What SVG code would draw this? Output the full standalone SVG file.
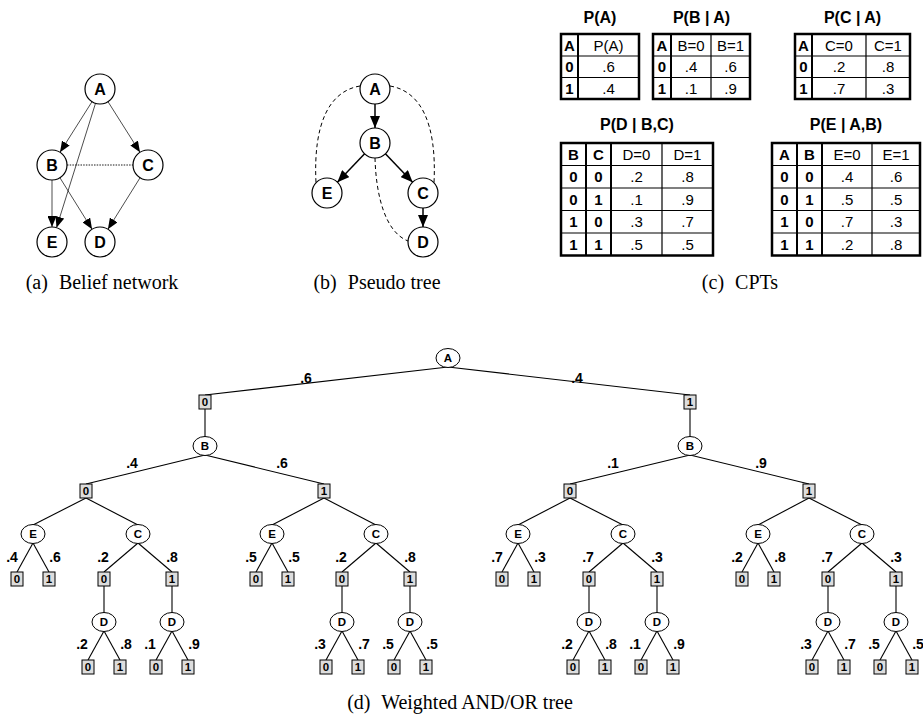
<svg xmlns="http://www.w3.org/2000/svg" width="923" height="721" viewBox="0 0 923 721">
<defs>
<marker id="arr" markerUnits="userSpaceOnUse" markerWidth="11" markerHeight="9" refX="11" refY="4.5" orient="auto"><path d="M0,0 L11,4.5 L0,9 z" fill="#000"/></marker>
<marker id="arr2" markerUnits="userSpaceOnUse" markerWidth="12" markerHeight="10" refX="12" refY="5" orient="auto"><path d="M0,0 L12,5 L0,10 z" fill="#000"/></marker>
</defs>
<style>
.n circle{fill:#fff;stroke:#000;stroke-width:1.2}
.n text{font-family:"Liberation Sans",Arial,sans-serif;font-weight:bold;font-size:16px;text-anchor:middle}
.e1{stroke:#000;stroke-width:0.7;fill:none}
.dot{stroke:#000;stroke-width:0.9;stroke-dasharray:1.5 1.2;fill:none}
.e2{stroke:#000;stroke-width:1.5;fill:none}
.dash{stroke:#000;stroke-width:1;stroke-dasharray:4 3;fill:none}
.cap{font-family:"Liberation Serif","Times New Roman",serif;font-size:20px;text-anchor:middle}
.tt{font-family:"Liberation Sans",Arial,sans-serif;font-weight:bold;font-size:16px;text-anchor:middle}
.tc{font-family:"Liberation Sans",Arial,sans-serif;font-size:15px;text-anchor:middle}
.tb{font-weight:bold}
.ob{fill:none;stroke:#000;stroke-width:2.5}
.tk{stroke:#000;stroke-width:2}
.tn{stroke:#000;stroke-width:1.2}
.or ellipse{fill:#fff;stroke:#000;stroke-width:1}
.or text,.and text{font-family:"Liberation Sans",Arial,sans-serif;font-weight:bold;font-size:11.5px;text-anchor:middle}
.and rect{fill:#ddd;stroke:#000;stroke-width:1}
.te path{stroke:#000;stroke-width:1.1;fill:none}
.w{font-family:"Liberation Sans",Arial,sans-serif;font-weight:bold;font-size:14px;text-anchor:middle}
</style>
<rect width="923" height="721" fill="#fff"/>

<!-- (a) Belief network -->
<g id="belief-network">
<g id="bn-edges">
<line class="e1" x1="92" y1="101.7" x2="60" y2="152.3" marker-end="url(#arr)"/>
<line class="e1" x1="108" y1="101.7" x2="140" y2="152.3" marker-end="url(#arr)"/>
<line class="e1" x1="95.5" y1="103.3" x2="56.5" y2="227.7" marker-end="url(#arr)"/>
<line class="e1" x1="52" y1="180" x2="52" y2="227" marker-end="url(#arr)"/>
<line class="e1" x1="59.9" y1="177.7" x2="92.1" y2="229.3" marker-end="url(#arr)"/>
<line class="e1" x1="140.1" y1="177.7" x2="107.9" y2="229.3" marker-end="url(#arr)"/>
<line class="dot" x1="67" y1="165" x2="133" y2="165"/>
</g>
<g id="bn-A" class="n"><circle cx="100" cy="89" r="15"/><text x="100" y="95">A</text></g>
<g id="bn-B" class="n"><circle cx="52" cy="165" r="15"/><text x="52" y="171">B</text></g>
<g id="bn-C" class="n"><circle cx="148" cy="165" r="15"/><text x="148" y="171">C</text></g>
<g id="bn-E" class="n"><circle cx="52" cy="242" r="15"/><text x="52" y="248">E</text></g>
<g id="bn-D" class="n"><circle cx="100" cy="242" r="15"/><text x="100" y="248">D</text></g>
<text class="cap" x="102" y="289">(a)<tspan dx="6"> Belief network</tspan></text>
</g>

<!-- (b) Pseudo tree -->
<g id="pseudo-tree">
<g id="pt-edges">
<line class="e2" x1="375" y1="104" x2="375" y2="128" marker-end="url(#arr2)"/>
<line class="e2" x1="364.6" y1="153.8" x2="337.4" y2="182.2" marker-end="url(#arr2)"/>
<line class="e2" x1="385.4" y1="153.8" x2="412.6" y2="182.2" marker-end="url(#arr2)"/>
<line class="e2" x1="423" y1="208" x2="423" y2="227" marker-end="url(#arr2)"/>
<path class="dash" d="M360,86 C330,91 313,122 316,183"/>
<path class="dash" d="M390,86 C420,91 437,122 434,183"/>
<path class="dash" d="M375,158 C376,195 385,232 408,241"/>
</g>
<g id="pt-A" class="n"><circle cx="375" cy="89" r="15"/><text x="375" y="95">A</text></g>
<g id="pt-B" class="n"><circle cx="375" cy="143" r="15"/><text x="375" y="149">B</text></g>
<g id="pt-E" class="n"><circle cx="327" cy="193" r="15"/><text x="327" y="199">E</text></g>
<g id="pt-C" class="n"><circle cx="423" cy="193" r="15"/><text x="423" y="199">C</text></g>
<g id="pt-D" class="n"><circle cx="423" cy="242" r="15"/><text x="423" y="248">D</text></g>
<text class="cap" x="377" y="289">(b)<tspan dx="6"> Pseudo tree</tspan></text>
</g>

<!-- (c) CPTs -->
<g id="cpts">
<g id="cpt-A">
<text class="tt" x="600" y="23">P(A)</text>
<line class="tn" x1="561" y1="56" x2="639" y2="56"/>
<line class="tn" x1="561" y1="77.5" x2="639" y2="77.5"/>
<line class="tk" x1="578" y1="34" x2="578" y2="99"/>
<rect class="ob" x="561" y="34" width="78" height="65"/>
<text class="tc tb" x="569.5" y="50.5">A</text><text class="tc" x="608.5" y="50.5">P(A)</text>
<text class="tc tb" x="569.5" y="72.3">0</text><text class="tc" x="608.5" y="72.3">.6</text>
<text class="tc tb" x="569.5" y="93.8">1</text><text class="tc" x="608.5" y="93.8">.4</text>
</g>
<g id="cpt-B">
<text class="tt" x="701.5" y="23">P(B | A)</text>
<line class="tn" x1="653" y1="56" x2="750" y2="56"/>
<line class="tn" x1="653" y1="77.5" x2="750" y2="77.5"/>
<line class="tk" x1="671" y1="34" x2="671" y2="99"/>
<line class="tn" x1="711" y1="34" x2="711" y2="99"/>
<rect class="ob" x="653" y="34" width="97" height="65"/>
<text class="tc tb" x="662" y="50.5">A</text><text class="tc" x="691" y="50.5">B=0</text><text class="tc" x="730.5" y="50.5">B=1</text>
<text class="tc tb" x="662" y="72.3">0</text><text class="tc" x="691" y="72.3">.4</text><text class="tc" x="730.5" y="72.3">.6</text>
<text class="tc tb" x="662" y="93.8">1</text><text class="tc" x="691" y="93.8">.1</text><text class="tc" x="730.5" y="93.8">.9</text>
</g>
<g id="cpt-C">
<text class="tt" x="852.5" y="23">P(C | A)</text>
<line class="tn" x1="795" y1="56" x2="910" y2="56"/>
<line class="tn" x1="795" y1="77.5" x2="910" y2="77.5"/>
<line class="tk" x1="812" y1="34" x2="812" y2="99"/>
<line class="tn" x1="866" y1="34" x2="866" y2="99"/>
<rect class="ob" x="795" y="34" width="115" height="65"/>
<text class="tc tb" x="803.5" y="50.5">A</text><text class="tc" x="839" y="50.5">C=0</text><text class="tc" x="888" y="50.5">C=1</text>
<text class="tc tb" x="803.5" y="72.3">0</text><text class="tc" x="839" y="72.3">.2</text><text class="tc" x="888" y="72.3">.8</text>
<text class="tc tb" x="803.5" y="93.8">1</text><text class="tc" x="839" y="93.8">.7</text><text class="tc" x="888" y="93.8">.3</text>
</g>
<g id="cpt-D">
<text class="tt" x="637" y="130">P(D | B,C)</text>
<line class="tn" x1="561" y1="165.5" x2="713" y2="165.5"/>
<line class="tn" x1="561" y1="188" x2="713" y2="188"/>
<line class="tn" x1="561" y1="210.5" x2="713" y2="210.5"/>
<line class="tn" x1="561" y1="233" x2="713" y2="233"/>
<line class="tk" x1="586" y1="143" x2="586" y2="255.5"/>
<line class="tk" x1="611" y1="143" x2="611" y2="255.5"/>
<line class="tn" x1="662" y1="143" x2="662" y2="255.5"/>
<rect class="ob" x="561" y="143" width="152" height="112.5"/>
<text class="tc tb" x="573.5" y="159.8">B</text><text class="tc tb" x="598.5" y="159.8">C</text><text class="tc" x="636.5" y="159.8">D=0</text><text class="tc" x="687.5" y="159.8">D=1</text>
<text class="tc tb" x="573.5" y="182.3">0</text><text class="tc tb" x="598.5" y="182.3">0</text><text class="tc" x="636.5" y="182.3">.2</text><text class="tc" x="687.5" y="182.3">.8</text>
<text class="tc tb" x="573.5" y="204.8">0</text><text class="tc tb" x="598.5" y="204.8">1</text><text class="tc" x="636.5" y="204.8">.1</text><text class="tc" x="687.5" y="204.8">.9</text>
<text class="tc tb" x="573.5" y="227.3">1</text><text class="tc tb" x="598.5" y="227.3">0</text><text class="tc" x="636.5" y="227.3">.3</text><text class="tc" x="687.5" y="227.3">.7</text>
<text class="tc tb" x="573.5" y="249.8">1</text><text class="tc tb" x="598.5" y="249.8">1</text><text class="tc" x="636.5" y="249.8">.5</text><text class="tc" x="687.5" y="249.8">.5</text>
</g>
<g id="cpt-E">
<text class="tt" x="846" y="130">P(E | A,B)</text>
<line class="tn" x1="772" y1="165.5" x2="920" y2="165.5"/>
<line class="tn" x1="772" y1="188" x2="920" y2="188"/>
<line class="tn" x1="772" y1="210.5" x2="920" y2="210.5"/>
<line class="tn" x1="772" y1="233" x2="920" y2="233"/>
<line class="tk" x1="797" y1="143" x2="797" y2="255.5"/>
<line class="tk" x1="822" y1="143" x2="822" y2="255.5"/>
<line class="tn" x1="872" y1="143" x2="872" y2="255.5"/>
<rect class="ob" x="772" y="143" width="148" height="112.5"/>
<text class="tc tb" x="784.5" y="159.8">A</text><text class="tc tb" x="809.5" y="159.8">B</text><text class="tc" x="847" y="159.8">E=0</text><text class="tc" x="896" y="159.8">E=1</text>
<text class="tc tb" x="784.5" y="182.3">0</text><text class="tc tb" x="809.5" y="182.3">0</text><text class="tc" x="847" y="182.3">.4</text><text class="tc" x="896" y="182.3">.6</text>
<text class="tc tb" x="784.5" y="204.8">0</text><text class="tc tb" x="809.5" y="204.8">1</text><text class="tc" x="847" y="204.8">.5</text><text class="tc" x="896" y="204.8">.5</text>
<text class="tc tb" x="784.5" y="227.3">1</text><text class="tc tb" x="809.5" y="227.3">0</text><text class="tc" x="847" y="227.3">.7</text><text class="tc" x="896" y="227.3">.3</text>
<text class="tc tb" x="784.5" y="249.8">1</text><text class="tc tb" x="809.5" y="249.8">1</text><text class="tc" x="847" y="249.8">.2</text><text class="tc" x="896" y="249.8">.8</text>
</g>
<text class="cap" x="740" y="289">(c)<tspan dx="6"> CPTs</tspan></text>
</g>

<!-- (d) Weighted AND/OR tree -->
<g id="andor-tree">
<g id="tree-edges" class="te">
<path d="M448,367 L205,395"/><path d="M448,367 L690,395"/>
<path d="M205,409 L205,437"/><path d="M690,409 L690,437"/>
<path d="M205,455 L86,484"/><path d="M205,455 L324,484"/>
<path d="M690,455 L570,484"/><path d="M690,455 L809,484"/>
<path d="M86,498 L33,525"/><path d="M86,498 L138,525"/>
<path d="M324,498 L272,525"/><path d="M324,498 L376,525"/>
<path d="M570,498 L518,525"/><path d="M570,498 L623,525"/>
<path d="M809,498 L758,525"/><path d="M809,498 L862,525"/>
<path d="M33,543 L17,572"/><path d="M33,543 L49,572"/>
<path d="M272,543 L256,572"/><path d="M272,543 L288,572"/>
<path d="M518,543 L502,572"/><path d="M518,543 L534,572"/>
<path d="M758,543 L742,572"/><path d="M758,543 L774,572"/>
<path d="M138,543 L104,572"/><path d="M138,543 L172,572"/>
<path d="M376,543 L342,572"/><path d="M376,543 L410,572"/>
<path d="M623,543 L589,572"/><path d="M623,543 L657,572"/>
<path d="M862,543 L828,572"/><path d="M862,543 L896,572"/>
<path d="M104,586 L104,613"/><path d="M172,586 L172,613"/>
<path d="M342,586 L342,613"/><path d="M410,586 L410,613"/>
<path d="M589,586 L589,613"/><path d="M657,586 L657,613"/>
<path d="M828,586 L828,613"/><path d="M896,586 L896,613"/>
<path d="M104,631 L88,660"/><path d="M104,631 L120,660"/>
<path d="M172,631 L156,660"/><path d="M172,631 L188,660"/>
<path d="M342,631 L326,660"/><path d="M342,631 L358,660"/>
<path d="M410,631 L394,660"/><path d="M410,631 L426,660"/>
<path d="M589,631 L573,660"/><path d="M589,631 L605,660"/>
<path d="M657,631 L641,660"/><path d="M657,631 L673,660"/>
<path d="M828,631 L812,660"/><path d="M828,631 L844,660"/>
<path d="M896,631 L880,660"/><path d="M896,631 L912,660"/>
</g>
<g id="tree-weights" class="w">
<text x="306" y="383">.6</text><text x="577" y="383">.4</text>
<text x="132" y="468">.4</text><text x="282" y="468">.6</text><text x="613" y="468">.1</text><text x="761" y="468">.9</text>
<text x="12" y="562">.4</text><text x="55" y="562">.6</text>
<text x="103" y="562">.2</text><text x="172" y="562">.8</text>
<text x="251" y="562">.5</text><text x="294" y="562">.5</text>
<text x="341" y="562">.2</text><text x="410" y="562">.8</text>
<text x="497" y="562">.7</text><text x="540" y="562">.3</text>
<text x="588" y="562">.7</text><text x="657" y="562">.3</text>
<text x="737" y="562">.2</text><text x="780" y="562">.8</text>
<text x="827" y="562">.7</text><text x="896" y="562">.3</text>
<text x="82" y="649">.2</text><text x="126" y="649">.8</text>
<text x="150" y="649">.1</text><text x="194" y="649">.9</text>
<text x="320" y="649">.3</text><text x="364" y="649">.7</text>
<text x="388" y="649">.5</text><text x="432" y="649">.5</text>
<text x="567" y="649">.2</text><text x="611" y="649">.8</text>
<text x="635" y="649">.1</text><text x="679" y="649">.9</text>
<text x="806" y="649">.3</text><text x="850" y="649">.7</text>
<text x="874" y="649">.5</text><text x="918" y="649">.5</text>
</g>
<!-- OR nodes -->
<g id="or-A" class="or"><ellipse cx="448" cy="358" rx="12" ry="9.5"/><text x="448" y="362.2">A</text></g>
<g id="or-B-a0" class="or"><ellipse cx="205" cy="446" rx="12" ry="9.5"/><text x="205" y="450.2">B</text></g>
<g id="or-B-a1" class="or"><ellipse cx="690" cy="446" rx="12" ry="9.5"/><text x="690" y="450.2">B</text></g>
<g id="or-E-00" class="or"><ellipse cx="33" cy="534" rx="12" ry="9.5"/><text x="33" y="538.2">E</text></g>
<g id="or-C-00" class="or"><ellipse cx="138" cy="534" rx="12" ry="9.5"/><text x="138" y="538.2">C</text></g>
<g id="or-E-01" class="or"><ellipse cx="272" cy="534" rx="12" ry="9.5"/><text x="272" y="538.2">E</text></g>
<g id="or-C-01" class="or"><ellipse cx="376" cy="534" rx="12" ry="9.5"/><text x="376" y="538.2">C</text></g>
<g id="or-E-10" class="or"><ellipse cx="518" cy="534" rx="12" ry="9.5"/><text x="518" y="538.2">E</text></g>
<g id="or-C-10" class="or"><ellipse cx="623" cy="534" rx="12" ry="9.5"/><text x="623" y="538.2">C</text></g>
<g id="or-E-11" class="or"><ellipse cx="758" cy="534" rx="12" ry="9.5"/><text x="758" y="538.2">E</text></g>
<g id="or-C-11" class="or"><ellipse cx="862" cy="534" rx="12" ry="9.5"/><text x="862" y="538.2">C</text></g>
<g id="or-D-000" class="or"><ellipse cx="104" cy="622" rx="12" ry="9.5"/><text x="104" y="626.2">D</text></g>
<g id="or-D-001" class="or"><ellipse cx="172" cy="622" rx="12" ry="9.5"/><text x="172" y="626.2">D</text></g>
<g id="or-D-010" class="or"><ellipse cx="342" cy="622" rx="12" ry="9.5"/><text x="342" y="626.2">D</text></g>
<g id="or-D-011" class="or"><ellipse cx="410" cy="622" rx="12" ry="9.5"/><text x="410" y="626.2">D</text></g>
<g id="or-D-100" class="or"><ellipse cx="589" cy="622" rx="12" ry="9.5"/><text x="589" y="626.2">D</text></g>
<g id="or-D-101" class="or"><ellipse cx="657" cy="622" rx="12" ry="9.5"/><text x="657" y="626.2">D</text></g>
<g id="or-D-110" class="or"><ellipse cx="828" cy="622" rx="12" ry="9.5"/><text x="828" y="626.2">D</text></g>
<g id="or-D-111" class="or"><ellipse cx="896" cy="622" rx="12" ry="9.5"/><text x="896" y="626.2">D</text></g>
<!-- AND nodes -->
<g id="and-a0" class="and"><rect x="199" y="395" width="12" height="14"/><text x="205" y="406.2">0</text></g>
<g id="and-a1" class="and"><rect x="684" y="395" width="12" height="14"/><text x="690" y="406.2">1</text></g>
<g id="and-a0b0" class="and"><rect x="80" y="484" width="12" height="14"/><text x="86" y="495.2">0</text></g>
<g id="and-a0b1" class="and"><rect x="318" y="484" width="12" height="14"/><text x="324" y="495.2">1</text></g>
<g id="and-a1b0" class="and"><rect x="564" y="484" width="12" height="14"/><text x="570" y="495.2">0</text></g>
<g id="and-a1b1" class="and"><rect x="803" y="484" width="12" height="14"/><text x="809" y="495.2">1</text></g>
<g id="and-e00-0" class="and"><rect x="11" y="572" width="12" height="14"/><text x="17" y="583.2">0</text></g>
<g id="and-e00-1" class="and"><rect x="43" y="572" width="12" height="14"/><text x="49" y="583.2">1</text></g>
<g id="and-c00-0" class="and"><rect x="98" y="572" width="12" height="14"/><text x="104" y="583.2">0</text></g>
<g id="and-c00-1" class="and"><rect x="166" y="572" width="12" height="14"/><text x="172" y="583.2">1</text></g>
<g id="and-e01-0" class="and"><rect x="250" y="572" width="12" height="14"/><text x="256" y="583.2">0</text></g>
<g id="and-e01-1" class="and"><rect x="282" y="572" width="12" height="14"/><text x="288" y="583.2">1</text></g>
<g id="and-c01-0" class="and"><rect x="336" y="572" width="12" height="14"/><text x="342" y="583.2">0</text></g>
<g id="and-c01-1" class="and"><rect x="404" y="572" width="12" height="14"/><text x="410" y="583.2">1</text></g>
<g id="and-e10-0" class="and"><rect x="496" y="572" width="12" height="14"/><text x="502" y="583.2">0</text></g>
<g id="and-e10-1" class="and"><rect x="528" y="572" width="12" height="14"/><text x="534" y="583.2">1</text></g>
<g id="and-c10-0" class="and"><rect x="583" y="572" width="12" height="14"/><text x="589" y="583.2">0</text></g>
<g id="and-c10-1" class="and"><rect x="651" y="572" width="12" height="14"/><text x="657" y="583.2">1</text></g>
<g id="and-e11-0" class="and"><rect x="736" y="572" width="12" height="14"/><text x="742" y="583.2">0</text></g>
<g id="and-e11-1" class="and"><rect x="768" y="572" width="12" height="14"/><text x="774" y="583.2">1</text></g>
<g id="and-c11-0" class="and"><rect x="822" y="572" width="12" height="14"/><text x="828" y="583.2">0</text></g>
<g id="and-c11-1" class="and"><rect x="890" y="572" width="12" height="14"/><text x="896" y="583.2">1</text></g>
<g id="and-d000-0" class="and"><rect x="82" y="660" width="12" height="14"/><text x="88" y="671.2">0</text></g>
<g id="and-d000-1" class="and"><rect x="114" y="660" width="12" height="14"/><text x="120" y="671.2">1</text></g>
<g id="and-d001-0" class="and"><rect x="150" y="660" width="12" height="14"/><text x="156" y="671.2">0</text></g>
<g id="and-d001-1" class="and"><rect x="182" y="660" width="12" height="14"/><text x="188" y="671.2">1</text></g>
<g id="and-d010-0" class="and"><rect x="320" y="660" width="12" height="14"/><text x="326" y="671.2">0</text></g>
<g id="and-d010-1" class="and"><rect x="352" y="660" width="12" height="14"/><text x="358" y="671.2">1</text></g>
<g id="and-d011-0" class="and"><rect x="388" y="660" width="12" height="14"/><text x="394" y="671.2">0</text></g>
<g id="and-d011-1" class="and"><rect x="420" y="660" width="12" height="14"/><text x="426" y="671.2">1</text></g>
<g id="and-d100-0" class="and"><rect x="567" y="660" width="12" height="14"/><text x="573" y="671.2">0</text></g>
<g id="and-d100-1" class="and"><rect x="599" y="660" width="12" height="14"/><text x="605" y="671.2">1</text></g>
<g id="and-d101-0" class="and"><rect x="635" y="660" width="12" height="14"/><text x="641" y="671.2">0</text></g>
<g id="and-d101-1" class="and"><rect x="667" y="660" width="12" height="14"/><text x="673" y="671.2">1</text></g>
<g id="and-d110-0" class="and"><rect x="806" y="660" width="12" height="14"/><text x="812" y="671.2">0</text></g>
<g id="and-d110-1" class="and"><rect x="838" y="660" width="12" height="14"/><text x="844" y="671.2">1</text></g>
<g id="and-d111-0" class="and"><rect x="874" y="660" width="12" height="14"/><text x="880" y="671.2">0</text></g>
<g id="and-d111-1" class="and"><rect x="906" y="660" width="12" height="14"/><text x="912" y="671.2">1</text></g>
<text class="cap" x="460" y="709">(d)<tspan dx="6"> Weighted AND/OR tree</tspan></text>
</g>
</svg>
